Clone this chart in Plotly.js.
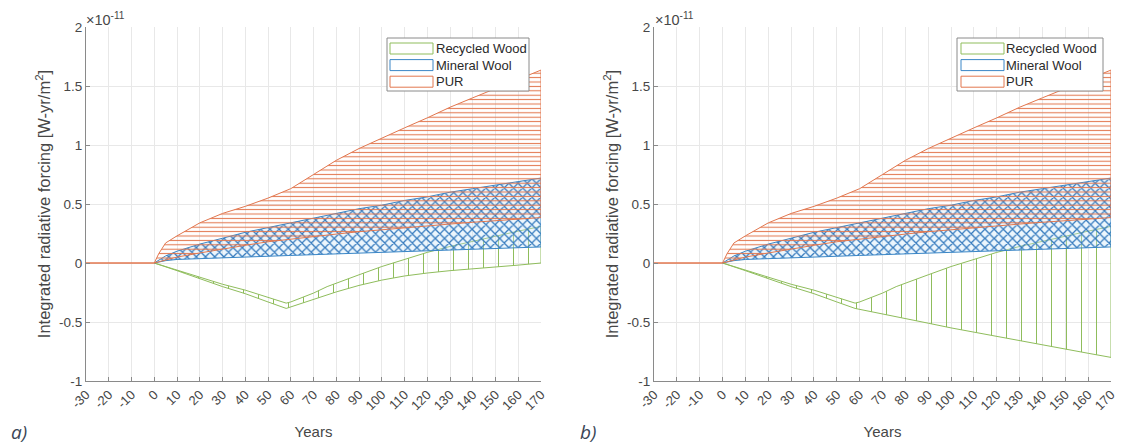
<!DOCTYPE html>
<html><head><meta charset="utf-8">
<script src="https://cdn.plot.ly/plotly-3.0.1.min.js"></script>
<style>html,body{margin:0;padding:0;background:#fff}#chart{width:1121px;height:446px}</style>
</head><body><div id="chart"></div>
<script>
// ---------------- data (values in units of 1e-11 W-yr/m2) ----------------
const seriesNames = ['Recycled Wood', 'Mineral Wool', 'PUR'];

const purYears = [-30, 0, 2, 5, 10, 20, 30, 40, 50, 58, 60, 70, 80, 90, 100, 110, 120, 130, 140, 150, 160, 170];
const purUpper = [0, 0, 0.08, 0.17, 0.23, 0.34, 0.42, 0.48, 0.55, 0.61, 0.63, 0.75, 0.87, 0.97, 1.06, 1.145, 1.23, 1.32, 1.40, 1.48, 1.56, 1.635];
const purLower = [0, 0, 0.01, 0.025, 0.05, 0.085, 0.12, 0.15, 0.18, 0.195, 0.20, 0.225, 0.245, 0.265, 0.285, 0.30, 0.315, 0.33, 0.345, 0.36, 0.373, 0.385];

const mwYears = [0, 5, 10, 20, 30, 40, 50, 60, 70, 80, 90, 100, 110, 120, 130, 140, 150, 160, 170];
const mwUpper = [0, 0.06, 0.10, 0.16, 0.21, 0.26, 0.30, 0.34, 0.38, 0.42, 0.46, 0.49, 0.53, 0.56, 0.60, 0.63, 0.66, 0.69, 0.72];
const mwLower = [0, 0.02, 0.03, 0.037, 0.044, 0.05, 0.057, 0.064, 0.07, 0.077, 0.083, 0.09, 0.097, 0.103, 0.11, 0.117, 0.123, 0.13, 0.136];

const rwYears  = [0, 10, 20, 30, 40, 50, 58, 60, 65, 70, 76, 80, 90, 100, 110, 120, 130, 140, 150, 160, 170];
const rwUpper  = [0, -0.06, -0.12, -0.18, -0.23, -0.29, -0.34, -0.33, -0.29, -0.255, -0.2, -0.17, -0.1, -0.03, 0.03, 0.09, 0.14, 0.185, 0.23, 0.27, 0.31];
const rwLowerA = [0, -0.065, -0.13, -0.2, -0.26, -0.33, -0.385, -0.37, -0.34, -0.31, -0.27, -0.245, -0.19, -0.145, -0.11, -0.085, -0.065, -0.048, -0.033, -0.018, 0];
const rwLowerB = [0, -0.065, -0.13, -0.2, -0.26, -0.33, -0.385, -0.39, -0.41, -0.43, -0.455, -0.47, -0.51, -0.55, -0.59, -0.625, -0.66, -0.695, -0.73, -0.765, -0.8];

const xTickVals = [-30, -20, -10, 0, 10, 20, 30, 40, 50, 60, 70, 80, 90, 100, 110, 120, 130, 140, 150, 160, 170];
const xTickText = ['-30', '-20', '-10', '0', '10', '20', '30', '40', '50', '60', '70', '80', '90', '100', '110', '120', '130', '140', '150', '160', '170'];
const yTickVals = [-1, -0.5, 0, 0.5, 1, 1.5, 2];
const yTickText = ['-1', '-0.5', '0', '0.5', '1', '1.5', '2'];

// ---------------- styling ----------------
const COL = {rw: '#8fbd5c', mw: '#3a86c6', pur: '#e2774f'};
const seriesColors = [COL.rw, COL.mw, COL.pur];
const W = 1121, H = 446, MT = 27, MB = 65, PH = H - MT - MB;
const fx = px => px / W;
const fy = py => (H - MB - py) / PH;
const FONT = 'Liberation Sans, Arial, Helvetica, sans-serif';

function band(xs, up, lo, color, pattern, xa, ya) {
  return {
    type: 'scatter', mode: 'lines', xaxis: xa, yaxis: ya,
    x: xs.concat(xs.slice().reverse()),
    y: up.concat(lo.slice().reverse()),
    fill: 'toself', fillcolor: 'rgba(0,0,0,0)',
    fillpattern: Object.assign({fgcolor: color, bgcolor: 'rgba(0,0,0,0)'}, pattern),
    line: {color: color, width: 1}, hoverinfo: 'skip', showlegend: false
  };
}
const patRW = {shape: '|', size: 15, solidity: 0.07};
const patMW = {shape: 'x', size: 6.5, solidity: 0.36, fgcolor: '#3479bd', bgcolor: 'rgba(200,228,248,0.35)'};
const patPUR = {shape: '-', size: 4.4, solidity: 0.24};

const traces = [
  band(rwYears, rwUpper, rwLowerA, COL.rw, patRW, 'x', 'y'),
  band(mwYears, mwUpper, mwLower, COL.mw, patMW, 'x', 'y'),
  band(purYears, purUpper, purLower, COL.pur, patPUR, 'x', 'y'),
  band(rwYears, rwUpper, rwLowerB, COL.rw, patRW, 'x2', 'y2'),
  band(mwYears, mwUpper, mwLower, COL.mw, patMW, 'x2', 'y2'),
  band(purYears, purUpper, purLower, COL.pur, patPUR, 'x2', 'y2')
];

function xax(dom, anchor) {
  return {
    domain: dom, anchor: anchor, range: [-30, 170], fixedrange: true,
    tickmode: 'array', tickvals: xTickVals, ticktext: xTickText, tickangle: -45,
    ticks: 'inside', ticklen: 4, tickcolor: '#8a8a8a',
    showline: true, linecolor: '#8a8a8a', linewidth: 1, mirror: false,
    showgrid: true, gridcolor: '#e8e8e8', gridwidth: 1, zeroline: false,
    tickfont: {family: FONT, size: 13, color: '#474747'},
    title: {text: 'Years', font: {family: FONT, size: 15, color: '#474747'}, standoff: 14}
  };
}
function yax(dom, anchor) {
  return {
    domain: dom, anchor: anchor, range: [-1, 2], fixedrange: true,
    tickmode: 'array', tickvals: yTickVals, ticktext: yTickText,
    ticks: 'inside', ticklen: 4, tickcolor: '#8a8a8a',
    showline: true, linecolor: '#8a8a8a', linewidth: 1, mirror: false,
    showgrid: true, gridcolor: '#e8e8e8', gridwidth: 1, zeroline: false,
    tickfont: {family: FONT, size: 13.5, color: '#474747'},
    title: {text: 'Integrated radiative forcing [W-yr/m<sup>2</sup>]', font: {family: FONT, size: 16.5, color: '#474747'}, standoff: 4}
  };
}

// legend drawn as shapes + text
const shapes = [], annotations = [];
function legendAt(x0, x1, sw0, sw1, tx) {
  shapes.push({type: 'rect', xref: 'paper', yref: 'paper', layer: 'above',
    x0: fx(x0), x1: fx(x1), y0: fy(91), y1: fy(38),
    line: {color: '#8a8a8a', width: 1}, fillcolor: '#ffffff'});
  seriesNames.forEach((name, i) => {
    const top = 43 + i * 16.6;
    shapes.push({type: 'rect', xref: 'paper', yref: 'paper', layer: 'above',
      x0: fx(sw0), x1: fx(sw1), y0: fy(top + 11), y1: fy(top),
      line: {color: seriesColors[i], width: 1}, fillcolor: '#ffffff'});
    annotations.push({xref: 'paper', yref: 'paper', x: fx(tx), y: fy(top + 5.5),
      xanchor: 'left', yanchor: 'middle', showarrow: false, text: name,
      font: {family: FONT, size: 13, color: '#2a2a2a'}});
  });
}
legendAt(387, 529, 390, 433, 434);
legendAt(957, 1103, 961, 1004, 1004);

[[84, 'a)', 9], [653, 'b)', 578]].forEach(([axX, lab, labX]) => {
  annotations.push({xref: 'paper', yref: 'paper', x: fx(axX), y: fy(19), xanchor: 'left', yanchor: 'middle',
    showarrow: false, text: '×10<sup>-11</sup>', font: {family: FONT, size: 14.5, color: '#474747'}});
  annotations.push({xref: 'paper', yref: 'paper', x: fx(labX), y: fy(432), xanchor: 'left', yanchor: 'middle',
    showarrow: false, text: '<i>' + lab + '</i>', font: {family: 'Open Sans, Liberation Sans, sans-serif', size: 19, color: '#3a4656'}});
});

const layout = {
  width: W, height: H, margin: {l: 0, r: 0, t: MT, b: MB},
  paper_bgcolor: '#ffffff', plot_bgcolor: '#ffffff', showlegend: false,
  xaxis: xax([fx(86), fx(541)], 'y'),
  yaxis: yax([0, 1], 'x'),
  xaxis2: xax([fx(654), fx(1111)], 'y2'),
  yaxis2: yax([0, 1], 'x2'),
  shapes: shapes, annotations: annotations
};
Plotly.newPlot('chart', traces, layout, {displayModeBar: false, staticPlot: true});
</script></body></html>
